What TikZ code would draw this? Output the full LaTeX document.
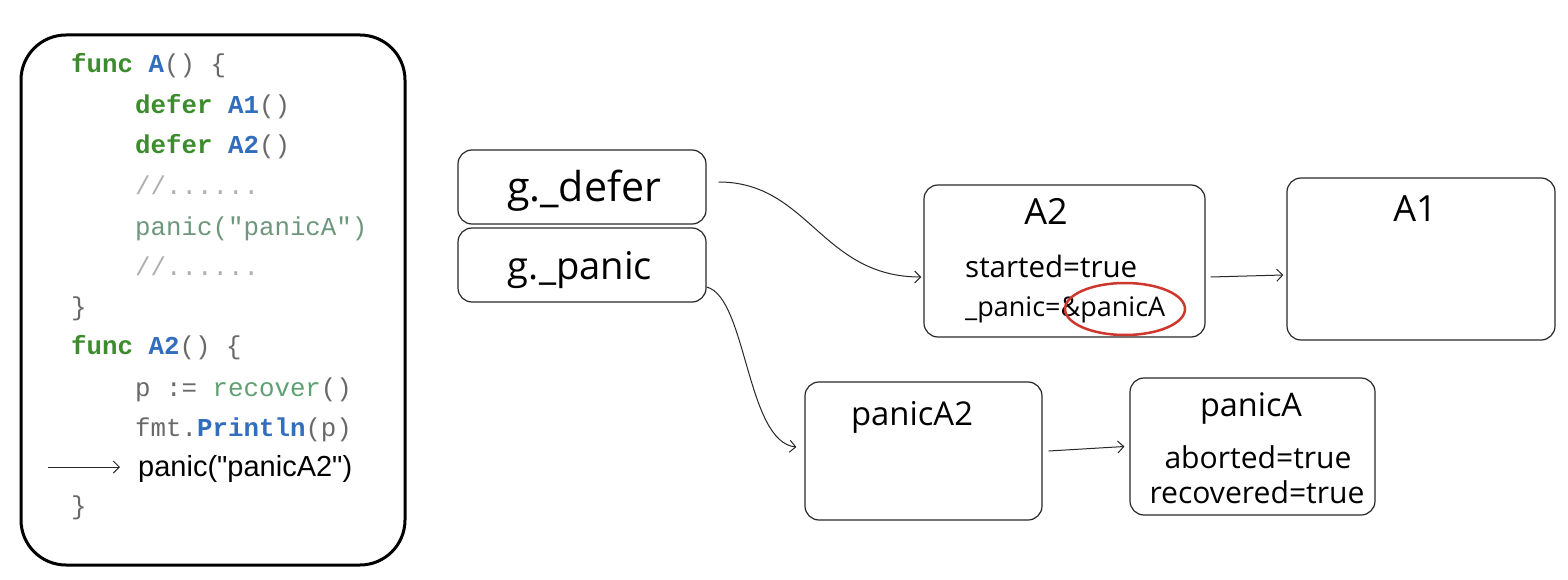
\documentclass[tikz,border=0pt]{standalone}
\usepackage{fontspec}
\usepackage{graphicx}
\setmainfont{Liberation Sans}
\newfontfamily\codefont{Liberation Mono}
\newfontfamily\arialfont{Liberation Sans}
\newfontfamily\handfont{Open Sans}
\usetikzlibrary{arrows.meta,shapes.geometric}
\definecolor{codegreen}{RGB}{60,140,45}
\definecolor{codeblue}{RGB}{50,110,190}
\definecolor{codegray}{RGB}{105,105,105}
\definecolor{commentgray}{RGB}{175,175,175}
\definecolor{panicgreen}{RGB}{110,150,125}
\definecolor{recgreen}{RGB}{95,160,115}
\definecolor{boxline}{RGB}{40,40,40}
\definecolor{ringred}{RGB}{205,55,45}
\newcommand\kw[1]{{\color{codegreen}\bfseries #1}}
\newcommand\fn[1]{{\color{codeblue}\bfseries #1}}
\newcommand\pl[1]{{\color{codegray}#1}}
\newcommand\hw[2]{\resizebox{#1pt}{!}{\handfont #2}}
\tikzset{
  codeline/.style={anchor=base west, inner sep=0pt, font=\codefont\fontsize{25.8}{30}\selectfont},
  handbox/.style={draw=boxline, line width=1.2pt, rounded corners=14pt, fill=white, inner sep=0pt},
  handtext/.style={inner sep=0pt, anchor=base},
  bigtitle/.style={inner sep=0pt, anchor=base, font=\handfont\fontsize{36}{40}\selectfont},
  link/.style={draw=boxline, line width=1pt, -{Straight Barb[length=6pt,width=12pt]}},
}
\begin{document}
\begin{tikzpicture}[x=1pt,y=-1pt]
\useasboundingbox[fill=white] (0,0) rectangle (1568,580);
% code panel
\node[draw=black, line width=3pt, rounded corners=45pt, minimum width=384pt, minimum height=530pt, inner sep=0pt] (panel) at (213,300) {};
\node[codeline] (c1) at (71,73) {\kw{func} \fn{A}\pl{() \{}};
\node[codeline] (c2) at (135,114) {\kw{defer} \fn{A1}\pl{()}};
\node[codeline] (c3) at (135,154) {\kw{defer} \fn{A2}\pl{()}};
\node[codeline] (c4) at (135,195) {\color{commentgray}//......};
\node[codeline] (c5) at (135,235) {\color{panicgreen}panic("panicA")};
\node[codeline] (c6) at (135,275) {\color{commentgray}//......};
\node[codeline] (c7) at (71,315) {\pl{\}}};
\node[codeline] (c8) at (71,354) {\kw{func} \fn{A2}\pl{() \{}};
\node[codeline] (c9) at (135,396) {\pl{p := }{\color{recgreen}recover}\pl{()}};
\node[codeline] (c10) at (135,436) {\pl{fmt.}\fn{Println}\pl{(p)}};
\node[anchor=base west, inner sep=0pt] (c11) at (138,476) {\resizebox{214pt}{!}{\arialfont\fontsize{26}{30}\selectfont panic("panicA2")}};
\node[codeline] (c12) at (71,514) {\pl{\}}};
\coordinate (cur) at (48,467);
\draw[link, line width=0.9pt] (cur) -- ([xshift=-18pt, yshift=9pt]c11.base west);
% g boxes
\node[handbox, minimum width=248pt, minimum height=74pt] (gdefer) at (582,187) {};
\node[handbox, minimum width=248pt, minimum height=74pt] (gpanic) at (582,265) {};
\node[handtext] (tdefer) at (584,201) {\hw{154}{g.\_defer}};
\node[handtext] (tpanic) at (580,279) {\hw{144}{g.\_panic}};
% A2 / A1
\node[handbox, minimum width=281pt, minimum height=152pt] (A2box) at (1064.5,261) {};
\node[handbox, minimum width=268pt, minimum height=162pt] (A1box) at (1421,259) {};
\node[bigtitle] (tA2) at (1046,225) {A2};
\node[handtext, anchor=base west] (tstart) at (965,277) {\hw{172}{started=true}};
\node[handtext, anchor=base west] (tpan) at (965,316) {\hw{200}{\_panic=\&panicA}};
\node[draw=ringred, line width=2.5pt, ellipse, minimum width=120pt, minimum height=52pt, inner sep=0pt] (ring) at (1125,309) {};
\node[bigtitle] (tA1) at (1415,222) {A1};
% panic boxes
\node[handbox, minimum width=237pt, minimum height=138pt] (pA2box) at (923.5,451) {};
\node[handbox, minimum width=245pt, minimum height=137pt] (pAbox) at (1252.5,446.5) {};
\node[handtext] (tpA2) at (912,425) {\hw{122}{panicA2}};
\node[handtext] (tpA) at (1251,416) {\hw{102}{panicA}};
\node[handtext] (tabort) at (1258,468) {\hw{187}{aborted=true}};
\node[handtext] (trec) at (1257,503) {\hw{215}{recovered=true}};
% connectors
\draw[link] ([xshift=12pt, yshift=5pt]gdefer.east) .. controls +(90,0) and +(-100,0) .. ([xshift=-2pt, yshift=-16pt]A2box.west);
\draw[link] ([yshift=-22pt]gpanic.east) .. controls +(40,10) and +(-50,-5) .. ([xshift=-8pt, yshift=4pt]pA2box.west);
\draw[link] ([xshift=5pt, yshift=-16pt]A2box.east) -- ([xshift=-3pt, yshift=-16pt]A1box.west);
\draw[link] ([xshift=6pt]pA2box.east) -- ([xshift=-5pt]pAbox.west);
\end{tikzpicture}
\end{document}
